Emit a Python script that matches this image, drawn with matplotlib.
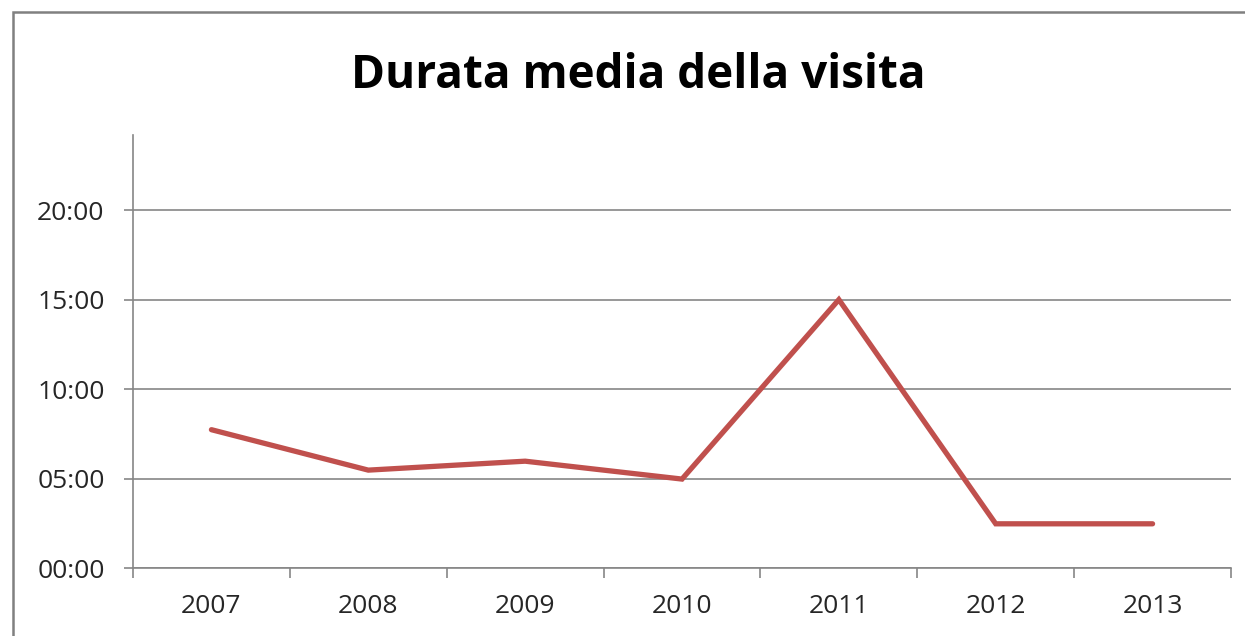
import matplotlib
matplotlib.use('Agg')
import matplotlib.pyplot as plt
from matplotlib.patches import Rectangle
from matplotlib.ticker import FixedLocator, FuncFormatter

# Dati: durata media della visita in minuti
anni = ['2007', '2008', '2009', '2010', '2011', '2012', '2013']
durata_min = [7.73, 5.47, 5.97, 4.97, 15.0, 2.47, 2.47]
y_ticks = [0, 5, 10, 15, 20]

plt.rcParams['font.family'] = ['Open Sans', 'DejaVu Sans']

W, H = 1245, 636
fig = plt.figure(figsize=(W / 100, H / 100), dpi=100)
ax = fig.add_axes([133 / W, 1 - 568 / H, (1231 - 133) / W, (568 - 135) / H])

# outer frame of the chart area (only left/top visible)
fig.patches.append(Rectangle((13 / W, -0.1), 1.2, 1 - 12 / H + 0.1,
                             transform=fig.transFigure, fill=False,
                             edgecolor='#808080', linewidth=1.8))

x = list(range(len(anni)))
ax.plot(x, durata_min, color='#C0504D', linewidth=3.8, solid_capstyle='round',
        solid_joinstyle='miter', zorder=3)

ax.set_xlim(-0.5, len(anni) - 0.5)
ax.set_ylim(0, 24.2)

# ticks between categories, labels centred on categories
ax.xaxis.set_major_locator(FixedLocator([i - 0.5 for i in range(len(anni) + 1)]))
ax.xaxis.set_major_formatter(FuncFormatter(lambda v, p: ''))
ax.set_xticks(x, minor=True)
ax.set_xticklabels(anni, minor=True)
ax.tick_params(axis='x', which='major', length=7, width=1.2, color='#868686', direction='out')
ax.tick_params(axis='x', which='minor', length=0, pad=19, labelsize=19, labelcolor='#262626')

ax.set_yticks(y_ticks)
ax.yaxis.set_major_formatter(FuncFormatter(lambda v, p: '%02d:%02d' % (int(v), round((v % 1) * 60))))
ax.tick_params(axis='y', length=6.5, width=1.2, color='#868686', pad=14,
               labelsize=19, labelcolor='#262626')

ax.grid(axis='y', color='#868686', linewidth=1.2)
ax.set_axisbelow(True)
for s in ['top', 'right']:
    ax.spines[s].set_visible(False)
for s in ['left', 'bottom']:
    ax.spines[s].set_color('#868686')
    ax.spines[s].set_linewidth(1.2)

fig.text(638 / W, 1 - 88 / H, 'Durata media della visita', ha='center', va='baseline',
         fontsize=33, fontweight='bold', color='black')

fig.savefig('out.png', dpi=100)
